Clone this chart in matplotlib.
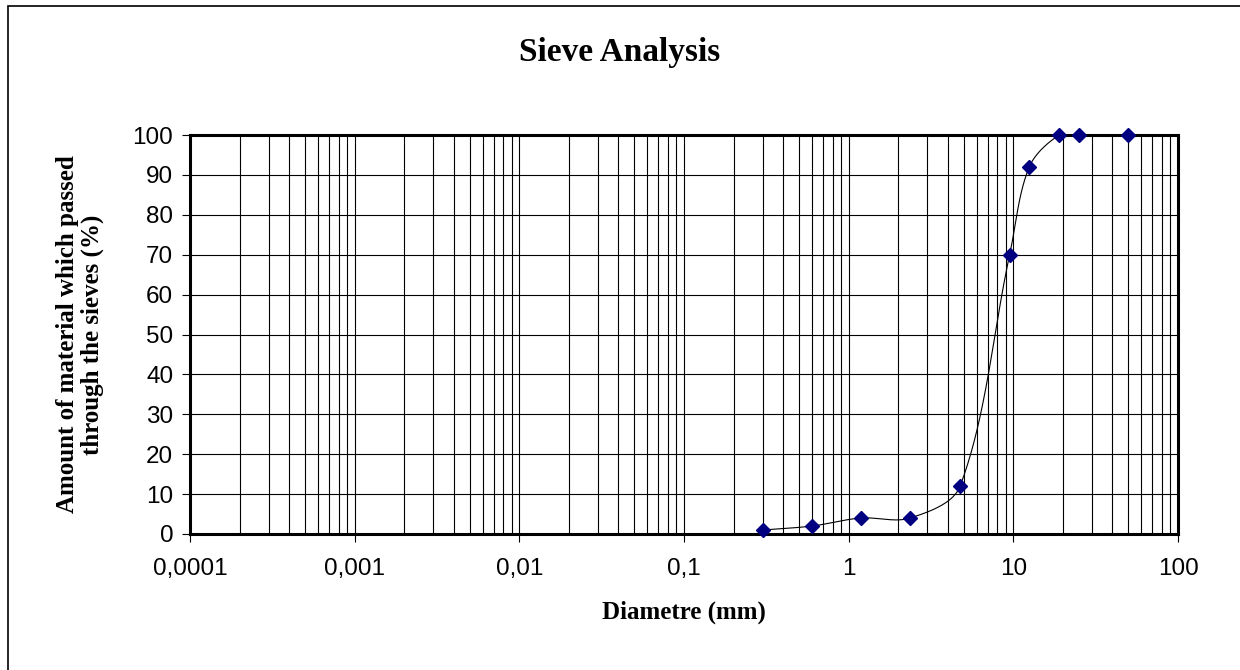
import numpy as np
import matplotlib
matplotlib.use("Agg")
import matplotlib.pyplot as plt
from matplotlib.patches import Rectangle

# sieve sizes (mm) and percent passing
diameters = [0.3, 0.6, 1.18, 2.36, 4.75, 9.5, 12.5, 19, 25, 50]
passing = [1, 2, 4, 4, 12, 70, 92, 100, 100, 100]

x_ticks = [0.0001, 0.001, 0.01, 0.1, 1, 10, 100]
x_tick_labels = ["0,0001", "0,001", "0,01", "0,1", "1", "10", "100"]
y_ticks = list(range(0, 101, 10))


# smoothed line like Excel: bezier segments in screen-like (log x, y) space,
# tangent split by neighbouring segment lengths
def smooth_curve(xs, ys, xscale=164.7, yscale=3.99, steps=40):
    pts = np.column_stack([np.log10(xs) * xscale, np.asarray(ys, float) * yscale])
    n = len(pts)
    tang = np.zeros_like(pts)
    for i in range(n):
        a = pts[max(i - 1, 0)]
        b = pts[min(i + 1, n - 1)]
        tang[i] = b - a
    out = []
    for i in range(n - 1):
        p1, p2 = pts[i], pts[i + 1]
        d12 = np.hypot(*(p2 - p1))
        d01 = np.hypot(*(p1 - pts[i - 1])) if i > 0 else 0.0
        d23 = np.hypot(*(pts[i + 2] - p2)) if i + 2 < n else 0.0
        c1 = p1 + tang[i] * d12 / (d01 + d12) / 3
        c2 = p2 - tang[i + 1] * d12 / (d12 + d23) / 3
        t = np.linspace(0, 1, steps)[:, None]
        seg = ((1 - t) ** 3) * p1 + 3 * ((1 - t) ** 2) * t * c1 + 3 * (1 - t) * t ** 2 * c2 + t ** 3 * p2
        out.append(seg)
    out = np.vstack(out)
    return 10 ** (out[:, 0] / xscale), out[:, 1] / yscale


fig = plt.figure(figsize=(12.4, 6.7), dpi=100)
fig.patch.set_facecolor("white")

# outer chart border (runs off the right/bottom edge like the original)
fig.patches.append(Rectangle((8 / 1240, -0.05), 1.1, (670 - 6) / 670 + 0.05,
                             transform=fig.transFigure, fill=False,
                             edgecolor="black", linewidth=1.2))

ax = fig.add_axes([190 / 1240, (670 - 534) / 670, (1178 - 190) / 1240, (534 - 135) / 670])
ax.set_xscale("log")
ax.set_xlim(0.0001, 100)
ax.set_ylim(0, 100)

ax.grid(True, which="major", axis="both", color="black", linewidth=0.8)
ax.grid(True, which="minor", axis="x", color="black", linewidth=0.8)
ax.set_axisbelow(True)

sx, sy = smooth_curve(diameters, passing)
ax.plot(sx, sy, color="black", linewidth=0.8, zorder=3)
ax.plot(diameters, passing, linestyle="none", marker="D", markersize=7.5,
        color="#000080", zorder=4, clip_on=False)

ax.set_xticks(x_ticks)
ax.set_xticklabels(x_tick_labels)
ax.set_yticks(y_ticks)
ax.xaxis.set_minor_formatter(matplotlib.ticker.NullFormatter())
ax.tick_params(axis="x", which="minor", length=0)
ax.tick_params(axis="both", which="major", direction="out", length=6, width=0.8,
               labelsize=17.5, pad=11)
ax.tick_params(axis="y", which="major", pad=6)
for lab in ax.get_xticklabels() + ax.get_yticklabels():
    lab.set_fontfamily("Liberation Sans")

for sp in ax.spines.values():
    sp.set_linewidth(2.2)
    sp.set_color("black")

fig.text(0.5, 1 - 52 / 670, "Sieve Analysis", ha="center", va="center",
         fontsize=24, fontweight="bold", family="Liberation Serif")
ax.set_xlabel("Diametre (mm)", fontsize=18, fontweight="bold",
              family="Liberation Serif")
ax.xaxis.set_label_coords(0.5, (534 - 612) / 399)
ax.xaxis.label.set_va("center")
ax.set_ylabel("Amount of material which passed\nthrough the sieves (%)", fontsize=18,
              fontweight="bold", family="Liberation Serif", linespacing=1.05)
ax.yaxis.set_label_coords((80 - 190) / 988, 0.5)
ax.yaxis.label.set_va("center")

fig.savefig("out.png", dpi=100)
